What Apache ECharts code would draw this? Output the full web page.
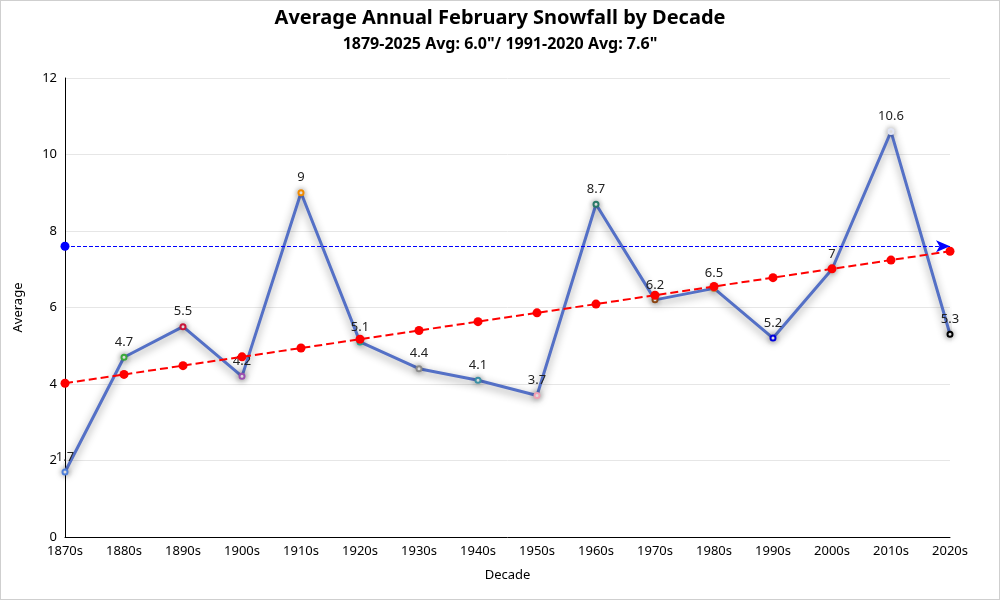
<!DOCTYPE html>
<html>
<head>
<meta charset="utf-8">
<script src="https://cdn.jsdelivr.net/npm/echarts@6/dist/echarts.min.js"></script>
<style>
html,body{margin:0;padding:0;background:#fff;}
#c{width:998px;height:598px;border:1px solid #cfcfcf;}
</style>
</head>
<body>
<div id="c"></div>
<script>
var decades = ['1870s','1880s','1890s','1900s','1910s','1920s','1930s','1940s','1950s','1960s','1970s','1980s','1990s','2000s','2010s','2020s'];
var snowfall = [1.7,4.7,5.5,4.2,9,5.1,4.4,4.1,3.7,8.7,6.2,6.5,5.2,7,10.6,5.3];
var trend = [4.02,4.25,4.48,4.71,4.94,5.17,5.40,5.63,5.86,6.09,6.32,6.55,6.78,7.01,7.24,7.47];
var pointColors = ['#4f7fd8','#3aa83a','#c8153a','#9b4fb0','#f08a00','#1fa58f','#8a8a8a','#3a8fa5','#f0a0b4','#2a7a68','#8b4513','#c08040','#0000dd','#d08020','#e0e4f4','#000000'];
var normalAvg = 7.6;
var yTicks = {min:0, max:12, interval:2};

var chart = echarts.init(document.getElementById('c'));
var font = 'Noto Sans, sans-serif';
chart.setOption({
  animation:false,
  textStyle:{fontFamily:font},
  title:{
    text:'Average Annual February Snowfall by Decade',
    subtext:'1879-2025 Avg: 6.0"/ 1991-2020 Avg: 7.6"',
    left:'center', top:2,
    textStyle:{fontSize:20,fontWeight:'bold',color:'#000',fontFamily:font},
    subtextStyle:{fontSize:16,fontWeight:'bold',color:'#000',fontFamily:font},
    itemGap:8
  },
  grid:{left:64,right:49,top:77,bottom:62},
  xAxis:{
    type:'category', data:decades, boundaryGap:false,
    name:'Decade', nameLocation:'middle', nameGap:32,
    nameTextStyle:{color:'#000',fontSize:13},
    axisLine:{lineStyle:{color:'#000'}},
    axisTick:{show:false},
    axisLabel:{color:'#000',fontSize:13,interval:0}
  },
  yAxis:{
    type:'value', min:yTicks.min, max:yTicks.max, interval:yTicks.interval,
    name:'Average', nameLocation:'middle', nameGap:40,
    nameTextStyle:{color:'#000',fontSize:13},
    axisLine:{show:true,lineStyle:{color:'#000'}},
    axisLabel:{color:'#000',fontSize:13},
    splitLine:{lineStyle:{color:'#e6e6e6'}}
  },
  series:[
    {
      type:'line', name:'Average',
      data:snowfall.map(function(v,i){return {value:v,itemStyle:{color:pointColors[i]}};}),
      symbol:'emptyCircle', symbolSize:5,
      lineStyle:{color:'#5470c6',width:3,shadowColor:'rgba(0,0,0,0.45)',shadowBlur:8,shadowOffsetY:3},
      itemStyle:{borderWidth:2,shadowColor:'rgba(0,0,0,0.4)',shadowBlur:6},
      label:{show:true,position:'top',color:'#222',fontSize:13},
      markLine:{
        silent:true,
        symbol:['circle','arrow'], symbolSize:[9,14],
        lineStyle:{color:'#0000ff',type:'dashed',width:1},
        label:{show:false},
        data:[{yAxis:normalAvg}]
      },
      z:2
    },
    {
      type:'line', name:'Trend',
      data:trend,
      symbol:'circle', symbolSize:9,
      lineStyle:{color:'#ff0000',type:'dashed',width:2},
      itemStyle:{color:'#ff0000'},
      z:3
    }
  ]
});
</script>
</body>
</html>
